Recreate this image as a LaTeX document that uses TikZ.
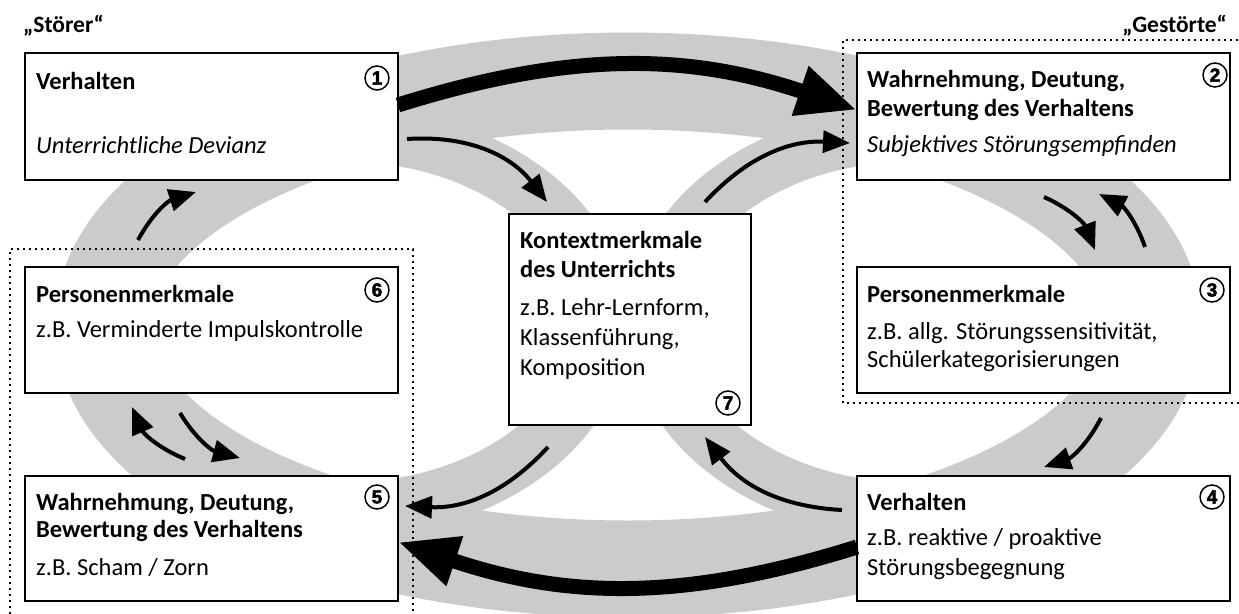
\documentclass[tikz,border=0pt]{standalone}
\usepackage{fontspec}
\setmainfont{Carlito}
\newfontfamily\numfont{Liberation Sans Bold}[FakeBold=2.5]
\usetikzlibrary{arrows.meta}
\definecolor{bandgray}{RGB}{203,203,203}
\begin{document}
\begin{tikzpicture}[x=1pt,y=1pt,
  box/.style={draw, line width=2.6pt, fill=white, inner sep=0pt, outer sep=0pt},
  ln/.style={anchor=base west, inner sep=0pt, font=\fontsize{24.5}{29}\selectfont},
  hd/.style={ln, font=\fontsize{24.5}{29}\selectfont\bfseries},
  itl/.style={ln, font=\fontsize{24.5}{29}\selectfont\itshape},
  head/.style={inner sep=0pt, font=\fontsize{23.5}{27}\selectfont\bfseries},
  num/.style={draw, circle, line width=1.5pt, minimum size=24pt, inner sep=0pt, font=\numfont\fontsize{19}{19}\selectfont},
  thinarr/.style={line width=4pt, -{Triangle[length=27pt,width=22pt]}},
  thickarr/.style={line width=15pt, -{Triangle[length=60pt,width=48pt]}},
  dots/.style={line width=1.8pt, dash pattern=on 1.8pt off 4.2pt}
]
\useasboundingbox (0,0) rectangle (1239,-613);

% grey bands
\draw[bandgray, line width=97pt] (628,-325) ellipse [x radius=525pt, y radius=244pt];
\draw[bandgray, line width=55pt] (343,-322) ellipse [x radius=258pt, y radius=188pt];
\draw[bandgray, line width=55pt] (913,-322) ellipse [x radius=258pt, y radius=188pt];

% dotted groups
\draw[dots] (1250,-40) -- (843,-40) -- (843,-403) -- (1250,-403);
\draw[dots] (10,-620) -- (10,-249) -- (413,-249) -- (413,-620);

% headers
\node[head, anchor=base west] (h1) at (23,-32) {„Störer“};
\node[head, anchor=base east] (h2) at (1227,-32) {„Gestörte“};

% boxes
\node[box, minimum width=373pt, minimum height=127pt] (b1) at (211.5,-116.5) {};
\node[box, minimum width=373pt, minimum height=127pt] (b2) at (1043.5,-116.5) {};
\node[box, minimum width=373pt, minimum height=126pt] (b3) at (1043.5,-330) {};
\node[box, minimum width=373pt, minimum height=125pt] (b4) at (1043.5,-538.5) {};
\node[box, minimum width=373pt, minimum height=125pt] (b5) at (211.5,-538.5) {};
\node[box, minimum width=373pt, minimum height=126pt] (b6) at (211.5,-330) {};
\node[box, minimum width=242pt, minimum height=211pt] (b7) at (630,-319.5) {};

% texts box 1
\node[hd] (t1a) at (36,-89) {Verhalten};
\node[itl] (t1b) at (36,-153) {Unterrichtliche Devianz};
% box 2
\node[hd] (t2a) at (867,-87.5) {Wahrnehmung, Deutung,};
\node[hd] (t2b) at (867,-116) {Bewertung des Verhaltens};
\node[itl] (t2c) at (867,-152) {Subjektives Störungsempfinden};
% box 3
\node[hd] (t3a) at (867,-302) {Personenmerkmale};
\node[ln] (t3b) at (867,-339) {z.B. allg. Störungssensitivität,};
\node[ln] (t3c) at (867,-367) {Schülerkategorisierungen};
% box 4
\node[hd] (t4a) at (867,-510) {Verhalten};
\node[ln] (t4b) at (867,-545) {z.B. reaktive / proaktive};
\node[ln] (t4c) at (867,-575) {Störungsbegegnung};
% box 5
\node[hd] (t5a) at (36,-510) {Wahrnehmung, Deutung,};
\node[hd] (t5b) at (36,-537) {Bewertung des Verhaltens};
\node[ln] (t5c) at (36,-575) {z.B. Scham / Zorn};
% box 6
\node[hd] (t6a) at (36,-302) {Personenmerkmale};
\node[ln] (t6b) at (36,-337) {z.B. Verminderte Impulskontrolle};
% box 7
\node[hd] (t7a) at (520,-248) {Kontextmerkmale};
\node[hd] (t7b) at (520,-277) {des Unterrichts};
\node[ln] (t7c) at (520,-315) {z.B. Lehr-Lernform,};
\node[ln] (t7d) at (520,-345) {Klassenführung,};
\node[ln] (t7e) at (520,-375) {Komposition};

% numbers
\node[num] (n1) at (377,-78) {1};
\node[num] (n2) at (1215,-75) {2};
\node[num] (n3) at (1212,-290) {3};
\node[num] (n4) at (1212,-497) {4};
\node[num] (n5) at (377,-497) {5};
\node[num] (n6) at (377,-290) {6};
\node[num] (n7) at (728,-403) {7};

% thick arrows
\draw[thickarr] ([yshift=-52pt]b1.north east) to[bend left=18] ([yshift=-57pt]b2.north west);
\draw[thickarr] ([yshift=-71pt]b4.north west) to[bend left=18] ([yshift=-66pt]b5.north east);

% thin arrows
\draw[thinarr] ([xshift=9pt,yshift=-86pt]b1.north east) to[bend left=28] ([xshift=38pt,yshift=12pt]b7.north west);
\draw[thinarr] ([xshift=-46pt,yshift=12pt]b7.north east) to[bend left=25] ([xshift=-7pt,yshift=-90pt]b2.north west);
\draw[thinarr] ([xshift=39pt,yshift=-22pt]b7.south west) to[bend left=25] ([xshift=7pt,yshift=-30pt]b5.north east);
\draw[thinarr] ([xshift=-15pt,yshift=-34pt]b4.north west) to[bend left=25] ([xshift=-46pt,yshift=-12pt]b7.south east);
\draw[thinarr] ([xshift=187pt,yshift=-17pt]b2.south west) to[bend left=22] ([xshift=238pt,yshift=17pt]b3.north west);
\draw[thinarr] ([xshift=288pt,yshift=20pt]b3.north west) to[bend right=22] ([xshift=242pt,yshift=-14pt]b2.south west);
\draw[thinarr] ([xshift=244pt,yshift=-25pt]b3.south west) to[bend left=22] ([xshift=187pt,yshift=9pt]b4.north west);
\draw[thinarr] ([xshift=155pt,yshift=-20pt]b6.south west) to[bend right=22] ([xshift=215pt,yshift=18pt]b5.north west);
\draw[thinarr] ([xshift=160pt,yshift=17pt]b5.north west) to[bend left=22] ([xshift=107pt,yshift=-14pt]b6.south west);
\draw[thinarr] ([xshift=113pt,yshift=27pt]b6.north west) to[bend left=22] ([xshift=171pt,yshift=-12pt]b1.south west);
\end{tikzpicture}
\end{document}
